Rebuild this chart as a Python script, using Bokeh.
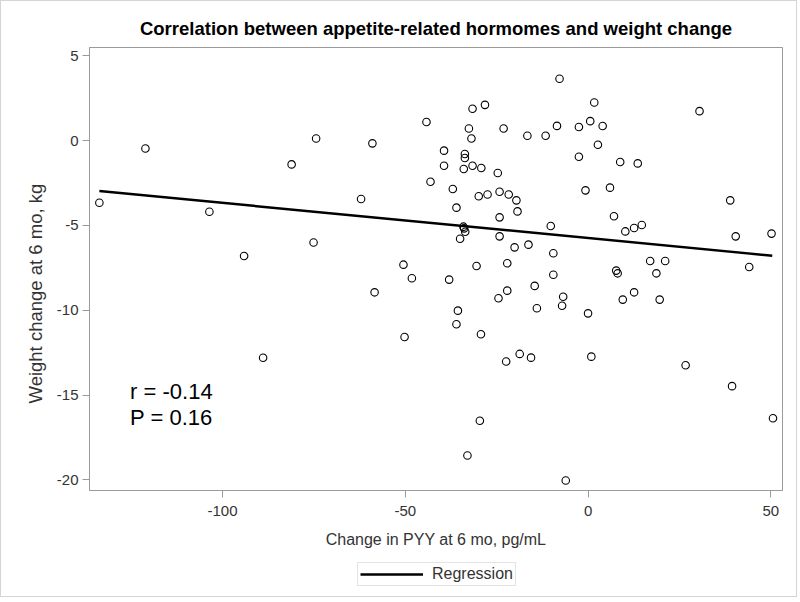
from bokeh.plotting import figure
from bokeh.layouts import column
from bokeh.models import Range1d, FixedTicker, Label, Legend, LegendItem, Title
from bokeh.embed import file_html
from bokeh.resources import INLINE

# Change in PYY at 6 mo (pg/mL)
pyy_change = [
    -133.7, -121.1, -103.6, -94.1, -88.9, -81.1, -75.1, -74.4, -62.1, -59.0,
    -58.4, -50.5, -50.2, -48.2, -44.2, -43.1, -39.4, -39.4, -38.0, -37.0,
    -36.0, -35.6, -36.0, -35.0, -34.1, -33.9, -33.6, -34.0, -33.7, -33.7,
    -33.0, -32.6, -31.9, -31.6, -31.6, -30.5, -29.9, -29.6, -29.3, -29.2,
    -28.2, -27.5, -24.7, -24.5, -24.2, -24.2, -24.2, -23.1, -22.4, -22.1,
    -22.1, -21.7, -20.1, -19.6, -19.3, -18.7, -16.6, -16.3, -15.6, -14.6,
    -14.0, -11.6, -10.2, -9.5, -9.5, -8.5, -7.8, -7.1, -6.8, -6.1,
    -2.5, -2.5, -0.7, 0.0, 0.6, 0.9, 1.7, 2.7, 4.0, 6.0,
    7.1, 7.7, 8.1, 8.8, 9.5, 10.2, 12.6, 12.6, 13.6, 14.7,
    17.0, 18.7, 19.6, 21.1, 26.7, 30.5, 38.9, 39.4, 40.4, 44.1,
    50.2, 50.6,
]
# Weight change at 6 mo (kg)
weight_change = [
    -3.66, -0.46, -4.19, -6.80, -12.80, -1.40, -6.00, 0.13, -3.44, -0.16,
    -8.94, -7.31, -11.57, -8.11, 1.10, -2.42, -0.59, -1.48, -8.19, -2.85,
    -3.95, -10.02, -10.82, -5.78, -5.07, -5.17, -5.37, -1.67, -0.79, -1.02,
    -18.56, 0.72, 0.13, 1.88, -1.48, -7.39, -3.28, -16.51, -11.41, -1.61,
    2.11, -3.17, -1.91, -9.29, -3.01, -4.52, -5.64, 0.72, -13.02, -7.23,
    -8.84, -3.17, -6.29, -3.52, -4.17, -12.57, 0.29, -6.13, -12.79, -8.56,
    -9.88, 0.29, -5.03, -6.64, -7.90, 0.87, 3.65, -9.73, -9.20, -20.03,
    0.80, -0.95, -2.93, -10.18, 1.15, -12.73, 2.25, -0.24, 0.86, -2.77,
    -4.46, -7.66, -7.82, -1.26, -9.37, -5.35, -5.15, -8.94, -1.34, -4.97,
    -7.09, -7.82, -9.37, -7.09, -13.24, 1.74, -3.52, -14.47, -5.64, -7.45,
    -5.48, -16.36,
]
# Regression line end points
reg_x = [-133.7, 50.4]
reg_y = [-2.97, -6.78]

x_ticks = [-100, -50, 0, 50]
y_ticks = [5, 0, -5, -10, -15, -20]

title_text = "Correlation between appetite-related hormomes and weight change"
x_label = "Change in PYY at 6 mo, pg/mL"
y_label = "Weight change at 6 mo, kg"
stat_lines = ["r = -0.14", "P = 0.16"]
legend_label = "Regression"

FONT = "Liberation Sans"
GRAY = "#9a9a9a"
TXT = "#333333"

p = figure(
    frame_width=693, frame_height=443,
    x_range=Range1d(-136.4, 53.2), y_range=Range1d(-20.62, 5.49),
    output_backend="svg", toolbar_location=None,
    min_border_left=88, min_border_right=14, min_border_top=46, min_border_bottom=68,
)
p.grid.visible = False
p.outline_line_color = GRAY
p.outline_line_width = 1

p.title.text = title_text
p.title.align = "center"
p.title.text_font = FONT
p.title.text_font_size = "18.5px"
p.title.text_font_style = "bold"
p.title.text_color = "black"
p.title.standoff = 17

for ax, ticks in ((p.xaxis[0], x_ticks), (p.yaxis[0], y_ticks)):
    ax.ticker = FixedTicker(ticks=ticks)
    ax.major_label_overrides = {t: str(t) for t in ticks}
    ax.axis_line_color = GRAY
    ax.major_tick_line_color = GRAY
    ax.major_tick_out = 7
    ax.major_tick_in = 0
    ax.minor_tick_line_color = None
    ax.major_label_text_font = FONT
    ax.major_label_text_font_size = "15px"
    ax.major_label_text_color = TXT

p.xaxis[0].major_label_standoff = 8
p.yaxis[0].major_label_standoff = 4
p.xaxis[0].axis_label = x_label
p.xaxis[0].axis_label_text_font = FONT
p.xaxis[0].axis_label_text_font_size = "16px"
p.xaxis[0].axis_label_text_font_style = "normal"
p.xaxis[0].axis_label_text_color = TXT
p.xaxis[0].axis_label_standoff = 12

p.scatter(pyy_change, weight_change, marker="circle", size=7.5,
          fill_color=None, line_color="black", line_width=1.1)
p.line(reg_x, reg_y, line_color="black", line_width=2.5)

# y-axis title as a left-side title (start of text 87px above frame bottom)
ytitle = Title(text=y_label, align="left", offset=87, standoff=15,
               text_font=FONT, text_font_size="18.5px", text_font_style="normal",
               text_color=TXT)
p.add_layout(ytitle, "left")

p.add_layout(Label(x=-125.3, y=-14.77, text=stat_lines[0], text_baseline="alphabetic",
                   text_font=FONT, text_font_size="22px", text_color="black"))
p.add_layout(Label(x=-125.3, y=-16.34, text=stat_lines[1], text_baseline="alphabetic",
                   text_font=FONT, text_font_size="22px", text_color="black"))

# legend strip below the chart (its frame is aligned with the chart frame)
lg = figure(width=795, height=38, x_range=Range1d(0, 1), y_range=Range1d(0, 1),
            output_backend="svg", toolbar_location=None,
            min_border=0, outline_line_color=None)
lg.axis.visible = False
lg.grid.visible = False
reg_key = lg.line(reg_x, reg_y, line_color="black", line_width=2.5)
legend = Legend(items=[LegendItem(label=legend_label, renderers=[reg_key])],
                location=(268, 10), orientation="horizontal",
                glyph_width=63, glyph_height=12, label_height=12, label_standoff=9,
                label_text_font=FONT, label_text_font_size="16px", label_text_color=TXT,
                border_line_color="#c8c8c8", border_line_width=1,
                background_fill_color="white", background_fill_alpha=1.0,
                padding=2, margin=0, spacing=0)
lg.add_layout(legend, "center")

layout = column(p, lg, spacing=0)
layout.styles = {"border": "1px solid #d4d4d4"}

open("out.html", "w").write(file_html(layout, INLINE))
